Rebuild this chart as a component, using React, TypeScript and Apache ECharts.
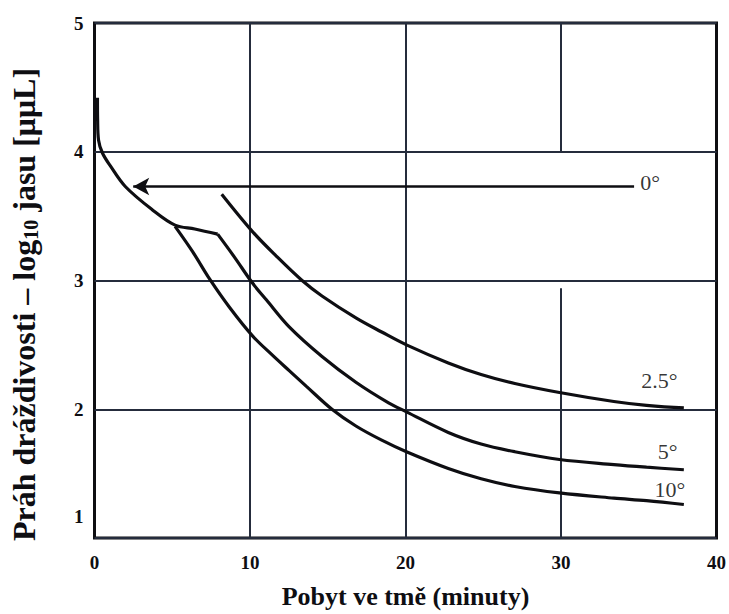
import React, { useEffect, useRef } from 'react';
import * as echarts from 'echarts';

// Axis ticks
const xTicks = [0, 10, 20, 30, 40];
const yTicks = [1, 2, 3, 4, 5];

// Initial (common) dark-adaptation branch, from the start to the 5° knee
const initX = [0.19, 0.2, 0.26, 0.51, 1.02, 1.98, 3.71, 5.18, 6.45, 7.92];
const initY = [4.42, 4.25, 4.09, 3.99, 3.89, 3.73, 3.55, 3.43, 3.40, 3.36];

// 5° branch (from knee)
const c5X = [7.92, 9.01, 10.16, 11.05, 12.52, 14.63, 16.81, 18.91, 20.06, 22.75, 24.86, 27.03, 29.9, 33.4, 35.5, 37.9];
const c5Y = [3.36, 3.18, 2.98, 2.85, 2.64, 2.41, 2.21, 2.05, 1.98, 1.82, 1.73, 1.67, 1.61, 1.57, 1.55, 1.53];

// 10° branch
const c10X = [5.18, 6.33, 7.41, 8.69, 10.16, 11.44, 12.52, 13.61, 15.27, 16.81, 18.47, 20.06, 22.75, 24.86, 27.03, 29.9, 33.4, 35.5, 37.9];
const c10Y = [3.42, 3.22, 3.01, 2.79, 2.57, 2.42, 2.30, 2.18, 2.00, 1.87, 1.76, 1.67, 1.54, 1.46, 1.40, 1.35, 1.31, 1.29, 1.26];

// 2.5° curve
const c25X = [8.18, 10.16, 11.69, 13.35, 14.63, 16.81, 18.47, 20.06, 22.75, 24.86, 27.03, 29.9, 33.4, 35.5, 37.9];
const c25Y = [3.67, 3.38, 3.19, 3.00, 2.88, 2.71, 2.60, 2.50, 2.36, 2.27, 2.20, 2.13, 2.06, 2.03, 2.01];

// 0° arrow (from right to left)
const arrowFrom = [34.7, 3.73];
const arrowTo = [2.49, 3.73];

// Curve labels
const labelTexts = ['0°', '2.5°', '5°', '10°'];
const labelX = [35.1, 37.5, 37.5, 38.0];
const labelY = [3.76, 2.22, 1.67, 1.38];
const labelAlign = ['left', 'right', 'right', 'right'];

// Vertical grid segments [x, yFrom, yTo]
const vGridX = [10, 20, 30, 30];
const vGridY0 = [1, 1, 1, 4];
const vGridY1 = [5, 5, 2.94, 5];

const xName = 'Pobyt ve tmě (minuty)';

const zip = (xs: number[], ys: number[]) => xs.map((x, i) => [x, ys[i]]);

const INK = '#0e0e12';
const GRID = '#252c3c';
const FONT = 'Times New Roman, Liberation Serif, DejaVu Serif, serif';

export default function App() {
  const ref = useRef<HTMLDivElement>(null);
  useEffect(() => {
    if (!ref.current) return;
    const chart = echarts.init(ref.current, null, { renderer: 'svg' });
    const curveStyle = { color: INK, width: 3.2 };
    const lineSeries = (name: string, data: number[][]) => ({
      name,
      type: 'line',
      data,
      smooth: 0.35,
      showSymbol: false,
      symbol: 'none',
      lineStyle: curveStyle,
      silent: true,
      z: 5,
    });
    chart.setOption({
      animation: false,
      backgroundColor: '#ffffff',
      textStyle: { fontFamily: FONT },
      grid: {
        left: 94,
        right: 9,
        top: 23,
        bottom: 75,
        show: true,
        borderColor: INK,
        borderWidth: 3,
      },
      xAxis: {
        type: 'value',
        min: xTicks[0],
        max: xTicks[xTicks.length - 1],
        interval: 10,
        name: xName,
        nameLocation: 'middle',
        nameGap: 45,
        nameTextStyle: { fontFamily: FONT, fontWeight: 'bold', fontSize: 26, color: INK },
        axisLine: { show: false },
        axisTick: { show: false },
        splitLine: { show: false },
        axisLabel: {
          fontFamily: FONT,
          fontWeight: 'bold',
          fontSize: 19,
          color: INK,
          margin: 15,
        },
      },
      yAxis: {
        type: 'value',
        min: yTicks[0],
        max: yTicks[yTicks.length - 1],
        interval: 1,
        name: 'Práh dráždivosti – log{sub|10} jasu [μμL]',
        nameLocation: 'middle',
        nameGap: 54,
        nameRotate: 90,
        nameTextStyle: {
          fontFamily: FONT,
          fontWeight: 'bold',
          fontSize: 32,
          color: INK,
          padding: [0, 48, 0, 0],
          rich: {
            sub: {
              fontFamily: FONT,
              fontWeight: 'bold',
              fontSize: 20,
              color: INK,
              padding: [13, 0, 0, 0],
            },
          },
        },
        axisLine: { show: false },
        axisTick: { show: false },
        splitLine: { show: true, lineStyle: { color: GRID, width: 2 } },
        axisLabel: {
          fontFamily: FONT,
          fontWeight: 'bold',
          fontSize: 19,
          color: INK,
          margin: 11,
          formatter: (v: number) => (v === yTicks[0] ? '{low|' + v + '}' : '{n|' + v + '}'),
          rich: {
            n: { fontFamily: FONT, fontWeight: 'bold', fontSize: 19, color: INK },
            low: {
              fontFamily: FONT,
              fontWeight: 'bold',
              fontSize: 19,
              color: INK,
              padding: [0, 0, 44, 0],
            },
          },
        },
      },
      series: [
        {
          name: 'grid',
          type: 'line',
          data: [],
          silent: true,
          z: 1,
          markLine: {
            silent: true,
            symbol: ['none', 'none'],
            label: { show: false },
            lineStyle: { color: GRID, width: 2, type: 'solid' },
            emphasis: { disabled: true },
            data: vGridX.map((x, i) => [
              { coord: [x, vGridY0[i]] },
              { coord: [x, vGridY1[i]] },
            ]),
          },
        },
        lineSeries('initial', zip(initX, initY)),
        lineSeries('5°', zip(c5X, c5Y)),
        lineSeries('10°', zip(c10X, c10Y)),
        lineSeries('2.5°', zip(c25X, c25Y)),
        {
          name: '0°',
          type: 'line',
          data: [],
          silent: true,
          z: 6,
          markLine: {
            silent: true,
            symbol: ['none', 'arrow'],
            symbolSize: [13, 16],
            label: { show: false },
            lineStyle: { color: INK, width: 2.6, type: 'solid' },
            itemStyle: { color: INK },
            emphasis: { disabled: true },
            data: [[{ coord: arrowFrom }, { coord: arrowTo }]],
          },
        },
        {
          name: 'labels',
          type: 'scatter',
          symbolSize: 0,
          silent: true,
          z: 7,
          data: labelTexts.map((t, i) => ({
            value: [labelX[i], labelY[i]],
            name: t,
            label: { align: labelAlign[i] },
          })),
          label: {
            show: true,
            position: 'inside',
            formatter: (p: any) => p.name,
            fontFamily: FONT,
            fontSize: 22,
            color: '#000000',
            verticalAlign: 'middle',
          },
        },
      ],
    });
    return () => chart.dispose();
  }, []);
  return <div ref={ref} style={{ width: 729, height: 614, position: 'absolute', left: 0, top: 0 }} />;
}
